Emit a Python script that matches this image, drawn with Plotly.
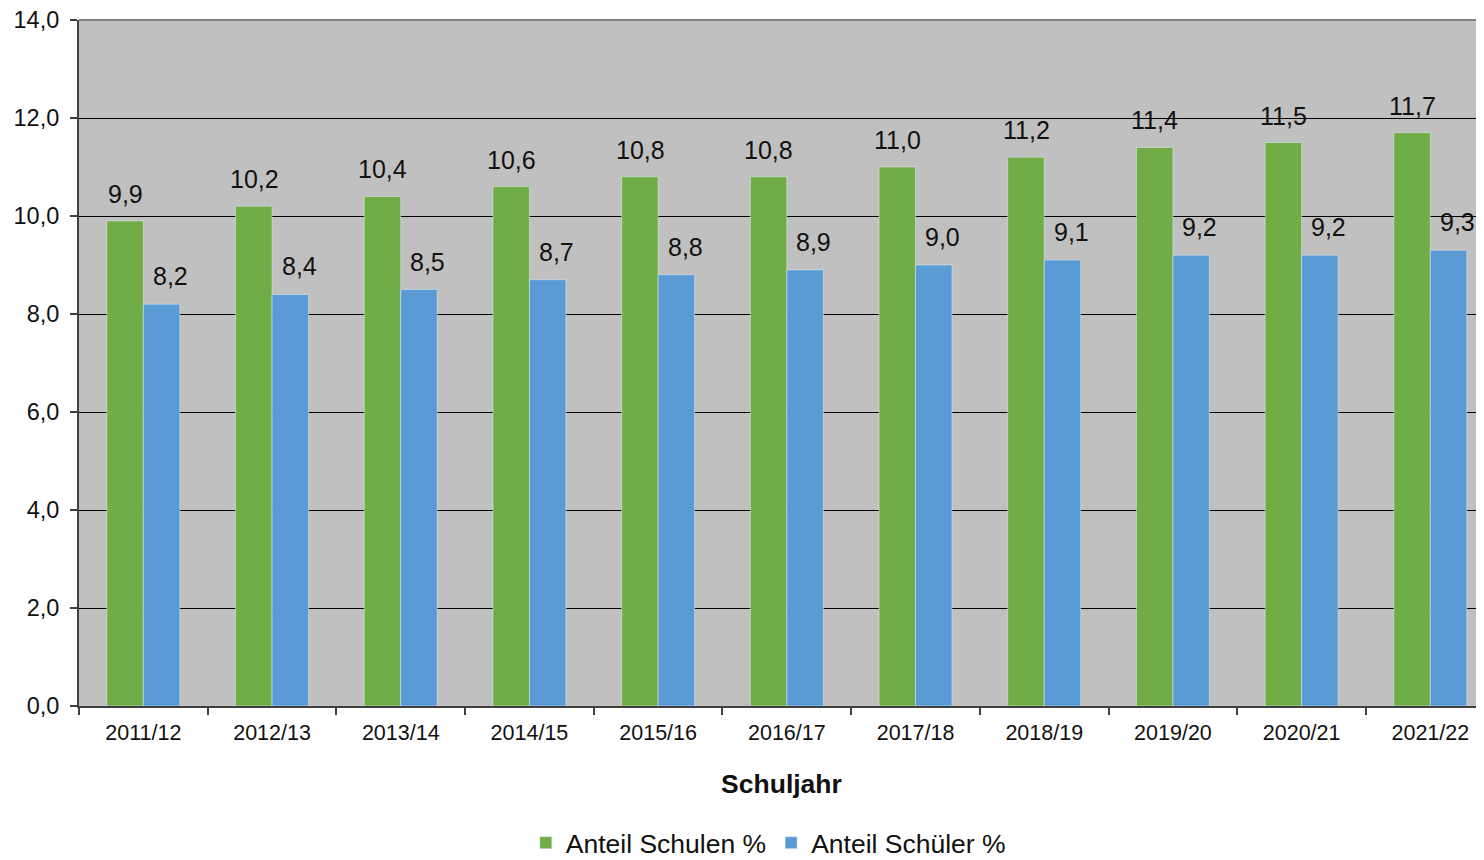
import plotly.graph_objects as go

# Daten
schuljahre = ['2011/12', '2012/13', '2013/14', '2014/15', '2015/16', '2016/17',
              '2017/18', '2018/19', '2019/20', '2020/21', '2021/22']
anteil_schulen = [9.9, 10.2, 10.4, 10.6, 10.8, 10.8, 11.0, 11.2, 11.4, 11.5, 11.7]
anteil_schueler = [8.2, 8.4, 8.5, 8.7, 8.8, 8.9, 9.0, 9.1, 9.2, 9.2, 9.3]
y_ticks = [0, 2, 4, 6, 8, 10, 12, 14]

gruen = '#70AD47'
blau = '#5B9BD5'
schrift = 'Liberation Sans, Arial, sans-serif'

fig = go.Figure()
fig.add_trace(go.Bar(x=schuljahre, y=anteil_schulen, name='Anteil Schulen %',
                     marker_color=gruen))
fig.add_trace(go.Bar(x=schuljahre, y=anteil_schueler, name='Anteil Schüler %',
                     marker_color=blau))

# Datenbeschriftungen ueber den Balken
def fmt(v):
    return f'{v:.1f}'.replace('.', ',')

annos = []
for j, s in enumerate(schuljahre):
    annos.append(dict(x=s, y=anteil_schulen[j], text=fmt(anteil_schulen[j]),
                      xref='x', yref='y', showarrow=False, xshift=-18,
                      yshift=27, yanchor='middle',
                      font=dict(size=25, color='#111111', family=schrift)))
    annos.append(dict(x=s, y=anteil_schueler[j], text=fmt(anteil_schueler[j]),
                      xref='x', yref='y', showarrow=False, xshift=27,
                      yshift=28, yanchor='middle',
                      font=dict(size=25, color='#111111', family=schrift)))

fig.update_layout(
    width=1476, height=852,
    margin=dict(l=71, r=0, t=12, b=154, autoexpand=False),
    paper_bgcolor='white',
    plot_bgcolor='#C0C0C0',
    separators=',.',
    barmode='group',
    bargap=0.433,
    bargroupgap=0,
    font=dict(family=schrift, color='#111111'),
    annotations=annos,
    showlegend=True,
    legend=dict(orientation='h', x=0.4906, xanchor='center',
                yref='container', y=0.02, yanchor='middle',
                font=dict(size=26.5, family=schrift),
                itemwidth=30, tracegroupgap=0, bgcolor='rgba(0,0,0,0)'),
)

fig.update_xaxes(
    type='category',
    range=[-0.5, 10.417],
    showgrid=False, automargin=False,
    showline=True, linecolor='#404040', linewidth=2,
    ticks='outside', tickson='boundaries', ticklen=7, tickcolor='#404040',
    tickwidth=1.5, ticklabelstandoff=6,
    tickfont=dict(size=21.5, family=schrift, color='#111111'),
    title=dict(text='<b>Schuljahr</b>', font=dict(size=26.5, family=schrift),
               standoff=31),
)
fig.update_yaxes(
    range=[0, 14],
    tickvals=y_ticks,
    tickformat='.1f', automargin=False,
    ticklabeloverflow='allow',
    showgrid=True, gridcolor='#000000', gridwidth=1,
    showline=True, linecolor='#404040', linewidth=2,
    ticks='outside', ticklen=7, tickcolor='#404040', tickwidth=1.5,
    ticklabelstandoff=6,
    tickfont=dict(size=23.5, family=schrift, color='#111111'),
    zeroline=False,
)

# obere Rahmenlinie
fig.add_shape(type='line', xref='paper', yref='paper', x0=0, x1=1, y0=1, y1=1,
              line=dict(color='#808080', width=2))

fig.write_html("out.html")
